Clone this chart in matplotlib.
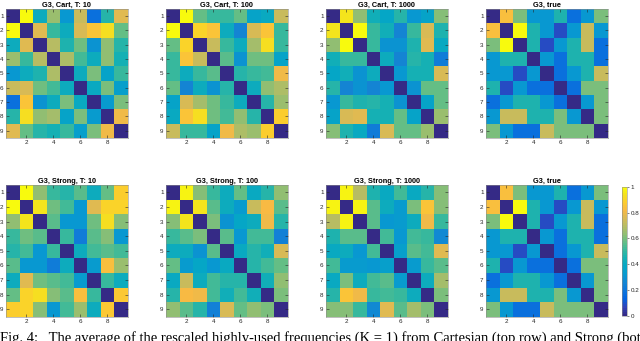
import matplotlib
matplotlib.use('Agg')
import matplotlib.pyplot as plt
import numpy as np
from matplotlib.colors import LinearSegmentedColormap

# parula (MATLAB default), every 4th entry of the 64-colour table
PARULA = [
    [0.2081, 0.1663, 0.5292], [0.1959, 0.2645, 0.7279], [0.0117, 0.3875, 0.8820],
    [0.0498, 0.4586, 0.8641], [0.0793, 0.5200, 0.8312], [0.0343, 0.5966, 0.8199],
    [0.0228, 0.6535, 0.7768], [0.0843, 0.6928, 0.7062], [0.2178, 0.7250, 0.6193],
    [0.3953, 0.7459, 0.5244], [0.5709, 0.7485, 0.4494], [0.7184, 0.7411, 0.3905],
    [0.8507, 0.7299, 0.3360], [0.9739, 0.7314, 0.2666], [0.9880, 0.8066, 0.1794],
    [0.9589, 0.8949, 0.1132], [0.9763, 0.9831, 0.0538],
]
pos = [i * 4 / 63 for i in range(16)] + [1.0]
parula = LinearSegmentedColormap.from_list('parula', list(zip(pos, PARULA)), N=64)

titles = [
    'G3, Cart, T: 10', 'G3, Cart, T: 100', 'G3, Cart, T: 1000', 'G3, true',
    'G3, Strong, T: 10', 'G3, Strong, T: 100', 'G3, Strong, T: 1000', 'G3, true',
]

cart_10 = [
    [0.00, 1.00, 0.42, 0.65, 0.32, 0.72, 0.18, 0.47, 0.78],
    [1.00, 0.00, 0.78, 0.50, 0.42, 0.75, 0.85, 0.93, 0.57],
    [0.42, 0.78, 0.00, 0.70, 0.46, 0.58, 0.30, 0.63, 0.47],
    [0.65, 0.50, 0.70, 0.00, 0.68, 0.52, 0.42, 0.64, 0.44],
    [0.32, 0.42, 0.46, 0.68, 0.00, 0.42, 0.60, 0.36, 0.50],
    [0.72, 0.75, 0.58, 0.52, 0.42, 0.00, 0.40, 0.60, 0.35],
    [0.18, 0.85, 0.30, 0.42, 0.60, 0.40, 0.00, 0.34, 0.60],
    [0.47, 0.93, 0.63, 0.66, 0.36, 0.60, 0.34, 0.00, 0.80],
    [0.78, 0.57, 0.47, 0.44, 0.50, 0.35, 0.60, 0.80, 0.00],
]
cart_100 = [
    [0.00, 1.00, 0.57, 0.50, 0.50, 0.57, 0.37, 0.40, 0.72],
    [1.00, 0.00, 0.90, 0.85, 0.42, 0.25, 0.75, 0.85, 0.50],
    [0.57, 0.90, 0.00, 0.72, 0.50, 0.42, 0.66, 0.93, 0.50],
    [0.50, 0.85, 0.72, 0.00, 0.56, 0.30, 0.58, 0.58, 0.36],
    [0.50, 0.42, 0.50, 0.56, 0.00, 0.47, 0.50, 0.53, 0.80],
    [0.57, 0.25, 0.42, 0.30, 0.47, 0.00, 0.42, 0.63, 0.68],
    [0.37, 0.75, 0.66, 0.58, 0.50, 0.42, 0.00, 0.48, 0.65],
    [0.40, 0.85, 0.93, 0.58, 0.53, 0.63, 0.48, 0.00, 0.88],
    [0.72, 0.50, 0.50, 0.36, 0.80, 0.68, 0.65, 0.88, 0.00],
]
cart_1000 = [
    [0.00, 0.95, 0.63, 0.43, 0.38, 0.48, 0.32, 0.36, 0.62],
    [0.95, 0.00, 1.00, 0.50, 0.43, 0.25, 0.50, 0.75, 0.46],
    [0.63, 1.00, 0.00, 0.50, 0.30, 0.30, 0.46, 0.77, 0.40],
    [0.43, 0.50, 0.50, 0.00, 0.42, 0.25, 0.48, 0.45, 0.22],
    [0.38, 0.43, 0.30, 0.42, 0.00, 0.32, 0.45, 0.45, 0.75],
    [0.48, 0.25, 0.30, 0.25, 0.32, 0.00, 0.30, 0.57, 0.57],
    [0.32, 0.50, 0.46, 0.48, 0.45, 0.30, 0.00, 0.36, 0.57],
    [0.36, 0.75, 0.77, 0.45, 0.45, 0.57, 0.36, 0.00, 0.65],
    [0.62, 0.46, 0.40, 0.22, 0.75, 0.57, 0.57, 0.65, 0.00],
]
true_g3 = [
    [0.00, 0.83, 0.60, 0.32, 0.32, 0.46, 0.18, 0.32, 0.60],
    [0.83, 0.00, 1.00, 0.46, 0.32, 0.09, 0.32, 0.72, 0.32],
    [0.60, 1.00, 0.00, 0.46, 0.09, 0.32, 0.46, 0.72, 0.18],
    [0.32, 0.46, 0.46, 0.00, 0.32, 0.18, 0.46, 0.46, 0.18],
    [0.32, 0.32, 0.09, 0.32, 0.00, 0.18, 0.32, 0.46, 0.72],
    [0.46, 0.09, 0.32, 0.18, 0.18, 0.00, 0.18, 0.60, 0.60],
    [0.18, 0.32, 0.46, 0.46, 0.32, 0.18, 0.00, 0.32, 0.60],
    [0.32, 0.72, 0.72, 0.46, 0.46, 0.60, 0.32, 0.00, 0.60],
    [0.60, 0.32, 0.18, 0.18, 0.72, 0.60, 0.60, 0.60, 0.00],
]
strong_10 = [
    [0.00, 1.00, 0.63, 0.50, 0.48, 0.55, 0.42, 0.57, 0.88],
    [1.00, 0.00, 0.95, 0.58, 0.52, 0.32, 0.78, 0.90, 0.90],
    [0.63, 0.95, 0.00, 0.56, 0.32, 0.32, 0.58, 0.93, 0.62],
    [0.50, 0.58, 0.56, 0.00, 0.50, 0.22, 0.56, 0.62, 0.32],
    [0.48, 0.52, 0.32, 0.50, 0.00, 0.42, 0.53, 0.55, 0.52],
    [0.55, 0.32, 0.32, 0.22, 0.42, 0.00, 0.34, 0.83, 0.65],
    [0.42, 0.78, 0.58, 0.56, 0.53, 0.34, 0.00, 0.50, 0.42],
    [0.57, 0.90, 0.93, 0.62, 0.55, 0.83, 0.50, 0.00, 0.86],
    [0.88, 0.90, 0.62, 0.32, 0.52, 0.65, 0.42, 0.86, 0.00],
]
strong_100 = [
    [0.00, 0.97, 0.62, 0.50, 0.42, 0.57, 0.40, 0.48, 0.63],
    [0.97, 0.00, 0.95, 0.55, 0.42, 0.34, 0.72, 0.82, 0.56],
    [0.62, 0.95, 0.00, 0.60, 0.30, 0.38, 0.42, 0.80, 0.48],
    [0.50, 0.55, 0.60, 0.00, 0.56, 0.32, 0.52, 0.52, 0.24],
    [0.42, 0.42, 0.30, 0.56, 0.00, 0.40, 0.47, 0.43, 0.75],
    [0.57, 0.34, 0.38, 0.32, 0.40, 0.00, 0.47, 0.53, 0.57],
    [0.40, 0.72, 0.42, 0.52, 0.47, 0.47, 0.00, 0.43, 0.64],
    [0.48, 0.82, 0.80, 0.52, 0.43, 0.53, 0.43, 0.00, 0.60],
    [0.63, 0.56, 0.48, 0.24, 0.75, 0.57, 0.64, 0.60, 0.00],
]
strong_1000 = [
    [0.00, 0.97, 0.70, 0.46, 0.40, 0.52, 0.40, 0.48, 0.62],
    [0.97, 0.00, 0.97, 0.56, 0.42, 0.34, 0.60, 0.85, 0.62],
    [0.70, 0.97, 0.00, 0.56, 0.32, 0.34, 0.42, 0.80, 0.50],
    [0.46, 0.56, 0.56, 0.00, 0.52, 0.32, 0.53, 0.50, 0.28],
    [0.40, 0.42, 0.32, 0.52, 0.00, 0.35, 0.55, 0.52, 0.78],
    [0.52, 0.34, 0.34, 0.32, 0.35, 0.00, 0.34, 0.50, 0.56],
    [0.40, 0.60, 0.42, 0.53, 0.55, 0.34, 0.00, 0.42, 0.66],
    [0.48, 0.85, 0.80, 0.50, 0.52, 0.50, 0.42, 0.00, 0.60],
    [0.62, 0.62, 0.50, 0.28, 0.78, 0.56, 0.66, 0.60, 0.00],
]
matrices = [cart_10, cart_100, cart_1000, true_g3,
            strong_10, strong_100, strong_1000, true_g3]

caption = ('Fig. 4:   The average of the rescaled highly-used frequencies (K = 1) '
           'from Cartesian (top row) and Strong (bottom row)')

W, H = 640, 341
fig = plt.figure(figsize=(W / 100, H / 100), dpi=100)
fig.patch.set_facecolor('white')

lefts = [5.7, 165.7, 325.7, 485.7]
rows = [(9.0, 137.7), (185.0, 316.7)]  # top, bottom in pixels
edge = '#262626'

im = None
for k, (mat, title) in enumerate(zip(matrices, titles)):
    top, bot = rows[k // 4]
    left = lefts[k % 4]
    ax = fig.add_axes([left / W, 1 - bot / H, 122 / W, (bot - top) / H])
    im = ax.imshow(np.array(mat), cmap=parula, vmin=0, vmax=1,
                   aspect='auto', interpolation='nearest',
                   extent=[0.5, 9.5, 9.5, 0.5])
    ax.set_xticks([2, 4, 6, 8])
    ax.set_yticks(range(1, 10))
    ax.tick_params(direction='in', length=2, width=0.4, colors=edge,
                   labelsize=4.5, pad=1.5, top=True, right=True)
    for sp in ax.spines.values():
        sp.set_linewidth(0.4)
        sp.set_color('#8c8c8c')
    for lab in ax.get_xticklabels() + ax.get_yticklabels():
        lab.set_family('Liberation Sans')
    ax.set_title(title, fontsize=5.3, fontweight='bold', family='Liberation Sans',
                 pad=1.5, color='black')

cax = fig.add_axes([621.7 / W, 1 - 316 / H, 5 / W, 129.3 / H])
cb = fig.colorbar(im, cax=cax, ticks=[0, 0.2, 0.4, 0.6, 0.8, 1])
cb.ax.set_yticklabels(['0', '0.2', '0.4', '0.6', '0.8', '1'])
cb.ax.tick_params(direction='out', length=1.5, width=0.4, colors=edge,
                  labelsize=4.5, pad=1.5)
cb.outline.set_linewidth(0.4)
cb.outline.set_edgecolor('#8c8c8c')
for lab in cb.ax.get_yticklabels():
    lab.set_family('Liberation Sans')

fig.text(0.0, 1 - 331 / H, caption, va='top', ha='left', fontsize=10.5,
         family='Liberation Serif', color='black')

fig.savefig('out.png', dpi=100)
